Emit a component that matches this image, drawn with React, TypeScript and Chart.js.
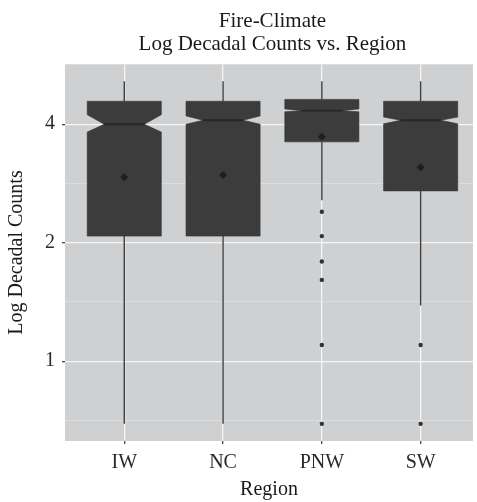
import React, { useEffect, useRef } from 'react';
import { Chart, registerables } from 'chart.js';

Chart.register(...registerables);

// ---- data (natural-log decadal counts) ----
const categories = ['IW', 'NC', 'PNW', 'SW'];
const whiskerLow = [0.693, 0.693, 2.565, 1.386];
const q1 = [2.079, 2.079, 3.608, 2.708];
const median = [4.0, 4.094, 4.331, 4.094];
const q3 = [4.575, 4.575, 4.625, 4.575];
const whiskerHigh = [5.147, 5.147, 5.147, 5.147];
const notchLow = [3.82, 4.0, 4.3, 4.01];
const notchHigh = [4.23, 4.2, 4.375, 4.17];
const means = [2.932, 2.974, 3.716, 3.11];
const outliersPNW = [2.398, 2.079, 1.792, 1.609, 1.099, 0.693];
const outliersSW = [1.099, 0.693];
const majorTicks = [1, 2, 4];
const minorTicks = [0.7071, 1.4142, 2.8284, 5.6569];
const titleLines = ['Fire-Climate', 'Log Decadal Counts vs. Region'];
const xTitle = 'Region';
const yTitle = 'Log Decadal Counts';

// axis range: 5% expansion on log scale around data range
const dataMin = Math.min(...whiskerLow, ...outliersPNW, ...outliersSW);
const dataMax = Math.max(...whiskerHigh);
const lMin = Math.log(dataMin);
const lMax = Math.log(dataMax);
const pad = (lMax - lMin) * 0.05;
const yMin = Math.exp(lMin - pad);
const yMax = Math.exp(lMax + pad);

const SERIF = '"Liberation Serif", "Times New Roman", serif';
const BOX_FILL = '#3c3c3c';

const panelBg = {
  id: 'panelBg',
  beforeDraw(chart: any) {
    const { ctx, chartArea } = chart;
    ctx.save();
    ctx.fillStyle = '#cfd0d2';
    ctx.fillRect(chartArea.left, chartArea.top, chartArea.right - chartArea.left, chartArea.bottom - chartArea.top);
    ctx.restore();
  },
};

const boxes = {
  id: 'boxes',
  beforeDatasetsDraw(chart: any) {
    const { ctx } = chart;
    const x = chart.scales.x;
    const y = chart.scales.y;
    ctx.save();
    ctx.beginPath();
    ctx.rect(chart.chartArea.left, chart.chartArea.top, chart.chartArea.right - chart.chartArea.left, chart.chartArea.bottom - chart.chartArea.top);
    ctx.clip();
    categories.forEach((_, i) => {
      const c = i + 1;
      const cx = x.getPixelForValue(c);
      const L = x.getPixelForValue(c - 0.375);
      const R = x.getPixelForValue(c + 0.375);
      const ni = (R - L) * 0.23;
      const yq1 = y.getPixelForValue(q1[i]);
      const yq3 = y.getPixelForValue(q3[i]);
      const ym = y.getPixelForValue(median[i]);
      const ynl = y.getPixelForValue(notchLow[i]);
      const ynh = y.getPixelForValue(notchHigh[i]);
      // whiskers
      ctx.strokeStyle = '#3f3f3f';
      ctx.lineWidth = 1.4;
      ctx.beginPath();
      ctx.moveTo(cx, yq3);
      ctx.lineTo(cx, y.getPixelForValue(whiskerHigh[i]));
      ctx.moveTo(cx, yq1);
      ctx.lineTo(cx, y.getPixelForValue(whiskerLow[i]));
      ctx.stroke();
      // notched box
      ctx.beginPath();
      ctx.moveTo(L, yq3);
      ctx.lineTo(R, yq3);
      ctx.lineTo(R, ynh);
      ctx.lineTo(R - ni, ym);
      ctx.lineTo(R, ynl);
      ctx.lineTo(R, yq1);
      ctx.lineTo(L, yq1);
      ctx.lineTo(L, ynl);
      ctx.lineTo(L + ni, ym);
      ctx.lineTo(L, ynh);
      ctx.closePath();
      ctx.fillStyle = BOX_FILL;
      ctx.fill();
      ctx.strokeStyle = '#333333';
      ctx.lineWidth = 0.6;
      ctx.stroke();
      // median
      ctx.strokeStyle = '#262626';
      ctx.lineWidth = 1.8;
      ctx.beginPath();
      ctx.moveTo(L + ni, ym);
      ctx.lineTo(R - ni, ym);
      ctx.stroke();
    });
    ctx.restore();
  },
};

const plotTitle = {
  id: 'plotTitle',
  afterDraw(chart: any) {
    const { ctx } = chart;
    const x = chart.scales.x;
    const cx = (x.getPixelForValue(0.4) + x.getPixelForValue(4.6)) / 2;
    ctx.save();
    ctx.font = `21px ${SERIF}`;
    ctx.fillStyle = '#1a1a1a';
    ctx.textAlign = 'center';
    ctx.textBaseline = 'alphabetic';
    ctx.fillText(titleLines[0], cx, 27);
    ctx.fillText(titleLines[1], cx, 50);
    ctx.restore();
  },
};

const isMajor = (v: number) => majorTicks.includes(v);

export default function App() {
  const ref = useRef<HTMLCanvasElement | null>(null);
  useEffect(() => {
    if (!ref.current) return;
    const chart = new Chart(ref.current, {
      type: 'scatter',
      data: {
        datasets: [
          {
            label: 'mean',
            data: means.map((m, i) => ({ x: i + 1, y: m })),
            pointStyle: 'rectRot',
            pointRadius: 4,
            backgroundColor: '#1e1e1e',
            borderColor: '#1e1e1e',
            borderWidth: 0,
          },
          {
            label: 'outliers',
            data: [
              ...outliersPNW.map((v) => ({ x: 3, y: v })),
              ...outliersSW.map((v) => ({ x: 4, y: v })),
            ],
            pointStyle: 'circle',
            pointRadius: 2.2,
            backgroundColor: '#333333',
            borderColor: '#333333',
            borderWidth: 0,
          },
        ],
      },
      options: {
        animation: false,
        responsive: false,
        devicePixelRatio: 1,
        layout: { padding: { top: 64, left: 0, right: 0, bottom: 0 } },
        plugins: { legend: { display: false }, tooltip: { enabled: false }, title: { display: false } },
        scales: {
          x: {
            type: 'linear',
            min: 0.4,
            max: 4.53,
            bounds: 'data',
            afterBuildTicks: (s: any) => {
              s.ticks = categories.map((_, i) => ({ value: i + 1 }));
            },
            afterFit: (s: any) => {
              s.height = 61;
              s.paddingLeft = 0;
              s.paddingRight = 0;
            },
            ticks: {
              autoSkip: false,
              maxRotation: 0,
              padding: 7,
              color: '#2a2a2a',
              font: { family: SERIF, size: 20 },
              callback: (v: any) => categories[Number(v) - 1] ?? '',
            },
            grid: { color: '#f5f5f5', lineWidth: 1.3, drawTicks: true, tickLength: 3, tickColor: '#444' },
            border: { display: false },
            title: {
              display: true,
              text: xTitle,
              color: '#1a1a1a',
              font: { family: SERIF, size: 20 },
              padding: { top: 0, bottom: 0 },
            },
          },
          y: {
            type: 'logarithmic',
            min: yMin,
            max: yMax,
            bounds: 'data',
            afterBuildTicks: (s: any) => {
              s.ticks = [...majorTicks, ...minorTicks].sort((a, b) => a - b).map((v) => ({ value: v }));
            },
            afterFit: (s: any) => {
              s.width = 65;
              s.paddingTop = 0;
              s.paddingBottom = 0;
            },
            ticks: {
              autoSkip: false,
              padding: 7,
              color: '#2a2a2a',
              font: { family: SERIF, size: 20 },
              callback: (v: any) => (isMajor(Number(v)) ? String(v) : ''),
            },
            grid: {
              color: (c: any) => (isMajor(c.tick?.value) ? '#f5f5f5' : '#e2e3e4'),
              lineWidth: (c: any) => (isMajor(c.tick?.value) ? 1.3 : 0.7),
              drawTicks: true,
              tickLength: 3,
              tickColor: (c: any) => (isMajor(c.tick?.value) ? '#444' : 'rgba(0,0,0,0)'),
            },
            border: { display: false },
            title: {
              display: true,
              text: yTitle,
              color: '#1a1a1a',
              font: { family: SERIF, size: 20 },
              padding: { top: 5, bottom: 0 },
            },
          },
        },
      },
      plugins: [panelBg, boxes, plotTitle],
    } as any);
    return () => chart.destroy();
  }, []);
  return (
    <div style={{ position: 'fixed', left: 0, top: 0, width: 477, height: 502 }}>
      <canvas ref={ref} width={477} height={502} style={{ width: 477, height: 502, display: 'block' }} />
    </div>
  );
}
